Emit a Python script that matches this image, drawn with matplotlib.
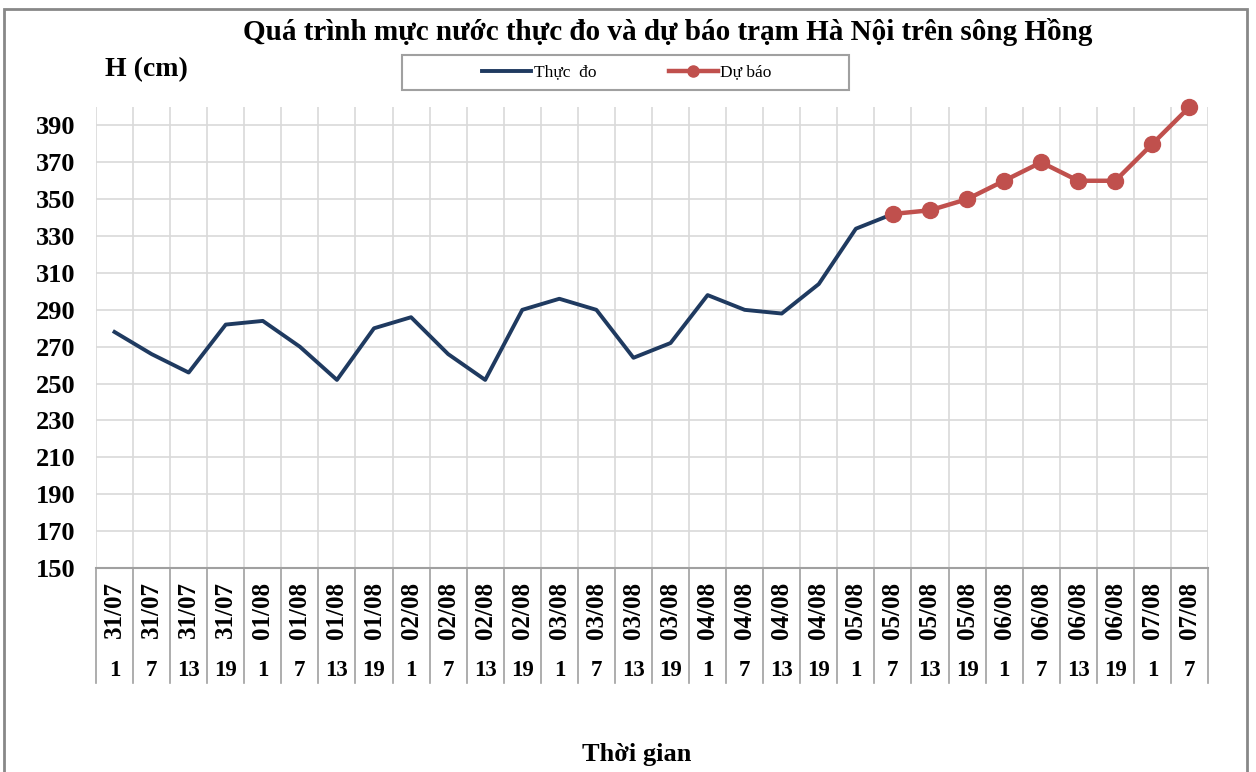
import numpy as np
import matplotlib.pyplot as plt
from matplotlib.patches import Rectangle
from matplotlib.lines import Line2D

plt.rcParams['font.family'] = ['Liberation Serif', 'DejaVu Serif']

# data
dates = ['31/07'] * 4 + ['01/08'] * 4 + ['02/08'] * 4 + ['03/08'] * 4 + \
        ['04/08'] * 4 + ['05/08'] * 4 + ['06/08'] * 4 + ['07/08'] * 2
hours = ['1', '7', '13', '19'] * 7 + ['1', '7']
observed = [278, 266, 256, 282, 284, 270, 252, 280, 286, 266, 252, 290,
            296, 290, 264, 272, 298, 290, 288, 304, 334, 342]
forecast = [342, 344, 350, 360, 370, 360, 360, 380, 400]
forecast_start = 21
yticks = list(range(150, 391, 20))

W, H = 1256, 772
fig = plt.figure(figsize=(W / 100, H / 100), dpi=100)
ax = fig.add_axes([96 / W, 1 - 568 / H, (1208 - 96) / W, (568 - 107) / H])

n = len(dates)
x = np.arange(n)
navy = '#1F3A60'
red = '#C0504D'

ax.plot(x[:len(observed)], observed, color=navy, lw=2.8, zorder=3)
xf = np.arange(forecast_start, forecast_start + len(forecast))
ax.plot(xf, forecast, color=red, lw=3.2, marker='o', ms=11.5,
        zorder=4, clip_on=False)

ax.set_xlim(-0.5, n - 0.5)
ax.set_ylim(150, 400)
ax.set_yticks(yticks)
ax.set_yticklabels([str(t) for t in yticks], fontsize=19, fontweight='bold')
ax.tick_params(axis='y', length=0, pad=15)
ax.set_xticks([])
ax.set_xticks(np.arange(-0.5, n, 1), minor=True)
ax.tick_params(axis='x', which='both', length=0, labelbottom=False)
ax.grid(True, axis='y', which='major', color='#D9D9D9', lw=1.2)
ax.grid(True, axis='x', which='minor', color='#D9D9D9', lw=1.2)
for s in ['top', 'right', 'left']:
    ax.spines[s].set_visible(False)
ax.spines['bottom'].set_color('#A0A0A0')
ax.spines['bottom'].set_linewidth(1.5)

# category table below the axis
trans = ax.get_xaxis_transform()
bottom = -(683 - 568) / (568 - 107)
for b in np.arange(-0.5, n, 1):
    ax.plot([b, b], [0, bottom], transform=trans, color='#A0A0A0',
            lw=1.2, clip_on=False)
for i in range(n):
    ax.text(i, -(610 - 568) / (568 - 107), dates[i], transform=trans,
            rotation=90, ha='center', va='center', fontsize=18,
            fontweight='bold')
    ax.text(i, -(671 - 568) / (568 - 107), hours[i], transform=trans,
            ha='center', va='center', fontsize=16.5, fontweight='bold')

# texts
fig.text(668 / W, 1 - 32 / H,
         'Quá trình mực nước thực đo và dự báo trạm Hà Nội trên sông Hồng',
         ha='center', va='center', fontsize=21, fontweight='bold')
fig.text(146 / W, 1 - 70 / H, 'H (cm)', ha='center', va='center',
         fontsize=20, fontweight='bold')
fig.text(637 / W, 1 - 754 / H, 'Thời gian', ha='center', va='center',
         fontsize=19, fontweight='bold')

# legend
fig.patches.append(Rectangle((402 / W, 1 - 90 / H), 447 / W, 35 / H,
                             transform=fig.transFigure, fill=False,
                             edgecolor='#A0A0A0', lw=1.5))
handles = [Line2D([], [], color=navy, lw=2.8),
           Line2D([], [], color=red, lw=3.2, marker='o', ms=8)]
fig.legend(handles, ['Thực  đo', 'Dự báo'], loc='center',
           bbox_to_anchor=(627 / W, 1 - 72.5 / H), ncol=2, frameon=False,
           fontsize=12.5, handlelength=2.8, handletextpad=0.15,
           columnspacing=4.2)

# outer border
fig.patches.append(Rectangle((4 / W, -0.05), (1247 - 4) / W, 1.05 - 9 / H,
                             transform=fig.transFigure, fill=False,
                             edgecolor='#888888', lw=2))

fig.savefig('out.png', dpi=100)
